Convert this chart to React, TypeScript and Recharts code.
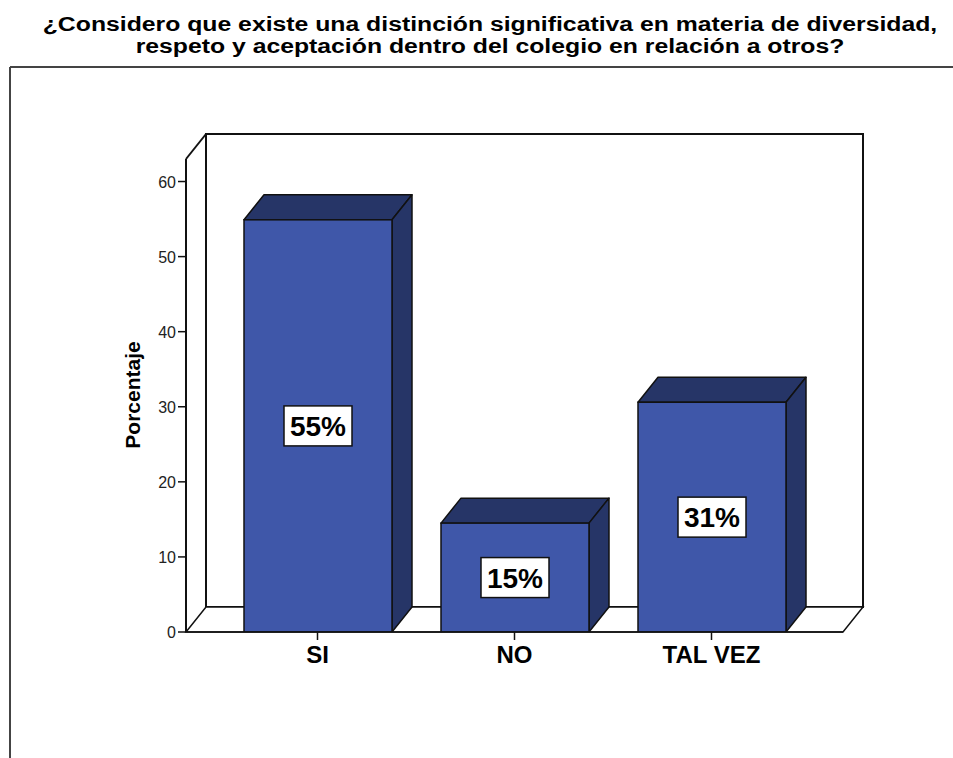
import React from 'react';
import { BarChart, Bar, XAxis, YAxis, LabelList, Customized } from 'recharts';

const categories = ['SI', 'NO', 'TAL VEZ'];
const percentages = [54.9, 14.5, 30.6];
const yTicks = [0, 10, 20, 30, 40, 50, 60];
const titleLines = [
  '¿Considero que existe una distinción significativa en materia de diversidad,',
  'respeto y aceptación dentro del colegio en relación a otros?',
];
const yAxisTitle = 'Porcentaje';

const data = categories.map((c, i) => ({ category: c, value: percentages[i] }));

const W = 953;
const H = 758;
const M = { top: 159, right: 110, bottom: 86, left: 126 };
const Y_AXIS_W = 60;
const X_AXIS_H = 40;
const DX = 20;
const DY = 25;
const FRONT = '#3F57A9';
const DARK = '#263567';
const FONT = 'Arial, "Liberation Sans", Helvetica, sans-serif';

const plotLeft = M.left + Y_AXIS_W;
const plotRight = W - M.right;
const plotTop = M.top;
const plotBottom = H - M.bottom - X_AXIS_H;

const Box3D = (props: any) => {
  const { x, y, width, height } = props;
  if (width == null || height == null) return null;
  const w = width;
  const h = height;
  return (
    <g>
      <polygon
        points={`${x},${y} ${x + DX},${y - DY} ${x + w + DX},${y - DY} ${x + w},${y}`}
        fill={DARK}
        stroke="#111"
        strokeWidth={1.5}
        strokeLinejoin="round"
      />
      <polygon
        points={`${x + w},${y} ${x + w + DX},${y - DY} ${x + w + DX},${y + h - DY} ${x + w},${y + h}`}
        fill={DARK}
        stroke="#111"
        strokeWidth={1.5}
        strokeLinejoin="round"
      />
      <rect x={x} y={y} width={w} height={h} fill={FRONT} stroke="#111" strokeWidth={1.5} />
    </g>
  );
};

const PctLabel = (props: any) => {
  const { x, y, width, height, value } = props;
  const cx = x + width / 2;
  const cy = y + height / 2;
  const bw = 68;
  const bh = 40;
  return (
    <g>
      <rect x={cx - bw / 2} y={cy - bh / 2} width={bw} height={bh} fill="#fff" stroke="#111" strokeWidth={1.5} />
      <text
        x={cx}
        y={cy + 10}
        textAnchor="middle"
        fontFamily={FONT}
        fontWeight="bold"
        fontSize={28}
        fill="#000"
      >
        {`${Math.round(value)}%`}
      </text>
    </g>
  );
};

const Frame3D = () => (
  <g>
    <rect
      x={plotLeft + DX}
      y={plotTop - DY}
      width={plotRight - plotLeft}
      height={plotBottom - plotTop}
      fill="#fff"
      stroke="#111"
      strokeWidth={2}
    />
    <polygon
      points={`${plotLeft},${plotBottom} ${plotLeft + DX},${plotBottom - DY} ${plotRight + DX},${plotBottom - DY} ${plotRight},${plotBottom}`}
      fill="#fff"
      stroke="#111"
      strokeWidth={1.5}
    />
    <line x1={plotLeft} y1={plotTop} x2={plotLeft + DX} y2={plotTop - DY} stroke="#111" strokeWidth={2} />
  </g>
);

const XTick = (props: any) => {
  const { x, y, payload } = props;
  return (
    <text x={x} y={y + 21} textAnchor="middle" fontFamily={FONT} fontWeight="bold" fontSize={24} fill="#000">
      {payload.value}
    </text>
  );
};

const YTick = (props: any) => {
  const { x, y, payload } = props;
  return (
    <text x={x} y={y + 6} textAnchor="end" fontFamily={FONT} fontSize={16} fill="#222">
      {payload.value}
    </text>
  );
};

export default function App() {
  return (
    <div style={{ position: 'absolute', left: 0, top: 0, width: W, height: H, background: '#fff', overflow: 'hidden' }}>
      <svg width={W} height={H} style={{ position: 'absolute', left: 0, top: 0 }}>
        {titleLines.map((t, i) => (
          <g key={i} transform={`translate(490, ${31 + i * 22}) scale(1.18, 1)`}>
            <text
              x={0}
              y={0}
              textAnchor="middle"
              fontFamily={FONT}
              fontWeight="bold"
              fontSize={21}
              fill="#000"
            >
              {t}
            </text>
          </g>
        ))}
        <line x1={10} y1={67} x2={W} y2={67} stroke="#444" strokeWidth={2} />
        <line x1={10} y1={67} x2={10} y2={H} stroke="#444" strokeWidth={2} />
        <text
          transform={`translate(140, 395) rotate(-90)`}
          textAnchor="middle"
          fontFamily={FONT}
          fontWeight="bold"
          fontSize={21}
          fill="#000"
        >
          {yAxisTitle}
        </text>
      </svg>
      <div style={{ position: 'absolute', left: 0, top: 0 }}>
        <BarChart width={W} height={H} data={data} margin={M} barSize={148}>
          <Customized component={<Frame3D />} />
          <XAxis
            dataKey="category"
            height={X_AXIS_H}
            padding={{ left: 33, right: 33 }}
            axisLine={{ stroke: '#111', strokeWidth: 1.5 }}
            tickLine={{ stroke: '#111', strokeWidth: 1.5 }}
            tickSize={8}
            tick={<XTick />}
            interval={0}
          />
          <YAxis
            width={Y_AXIS_W}
            domain={[0, 63]}
            ticks={yTicks}
            axisLine={{ stroke: '#111', strokeWidth: 2 }}
            tickLine={{ stroke: '#111', strokeWidth: 1.5 }}
            tickSize={8}
            tickMargin={2}
            tick={<YTick />}
            allowDataOverflow
          />
          <Bar dataKey="value" shape={<Box3D />} isAnimationActive={false}>
            <LabelList dataKey="value" content={<PctLabel />} />
          </Bar>
        </BarChart>
      </div>
    </div>
  );
}
